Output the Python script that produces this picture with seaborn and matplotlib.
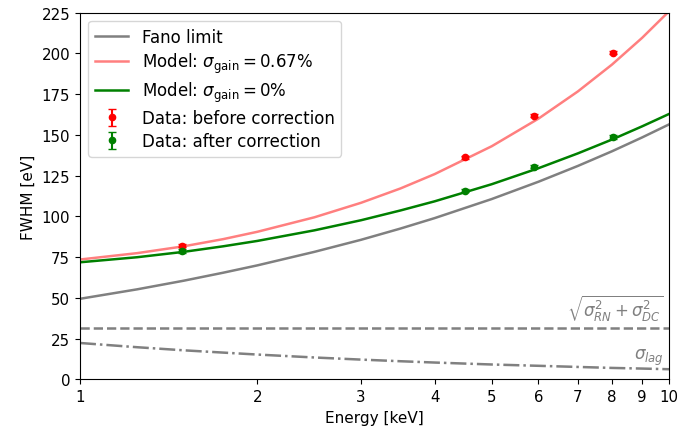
import numpy as np
import pandas as pd
import matplotlib
matplotlib.use("Agg")
import matplotlib.pyplot as plt
import seaborn as sns
from matplotlib.ticker import FixedLocator, NullLocator, FixedFormatter

# ---- data ----
energy_grid = [1, 1.25, 1.5, 1.75, 2, 2.5, 3, 3.5, 4, 5, 6, 7, 8, 9, 10]
fano_limit = [49.5, 55.3, 60.6, 65.5, 70.0, 78.3, 85.7, 92.6, 99.0, 110.7, 121.3, 131.0, 140.0, 148.5, 156.5]
model_gain = [73.6, 77.5, 81.7, 86.1, 90.6, 99.5, 108.4, 117.2, 126.0, 143.1, 160.0, 176.7, 193.2, 209.6, 225.9]
model_nogain = [71.9, 75.0, 78.3, 81.7, 85.0, 91.5, 97.7, 103.7, 109.3, 119.8, 129.6, 138.7, 147.2, 155.3, 162.9]
sigma_lag = [22.4, 19.8, 17.9, 16.5, 15.3, 13.5, 12.2, 11.2, 10.4, 9.2, 8.4, 7.7, 7.1, 6.7, 6.3]
rn_dc_level = [31.8, 31.8]
rn_dc_energy = [1, 10]

data_energy = [1.49, 4.51, 5.90, 8.04]
data_before = [82.1, 136.3, 161.8, 200.5]
data_before_err = [1.0, 1.0, 1.0, 1.0]
data_after = [78.8, 115.8, 130.5, 148.8]
data_after_err = [1.0, 1.0, 1.0, 1.0]

xtick_vals = [1, 2, 3, 4, 5, 6, 7, 8, 9, 10]
xtick_labels = ["1", "2", "3", "4", "5", "6", "7", "8", "9", "10"]
ytick_vals = [0, 25, 50, 75, 100, 125, 150, 175, 200, 225]

plt.rcParams["font.size"] = 11
plt.rcParams["xtick.labelsize"] = 10.8
plt.rcParams["ytick.labelsize"] = 10.8
plt.rcParams["font.family"] = ["DejaVu Sans"]

fig, ax = plt.subplots(figsize=(6.8, 4.35), dpi=100)
fig.subplots_adjust(left=0.1176, right=0.984, top=0.9685, bottom=0.1253)

curves = pd.DataFrame({"E": energy_grid, "fano": fano_limit, "gain": model_gain,
                       "nogain": model_nogain, "lag": sigma_lag})

sns.lineplot(data=curves, x="E", y="fano", ax=ax, color="gray", lw=1.8,
             label="Fano limit", sort=False, estimator=None)
sns.lineplot(data=curves, x="E", y="gain", ax=ax, color="red", alpha=0.5, lw=1.8,
             label=r"Model: $\sigma_{\rm gain} = 0.67\%$", sort=False, estimator=None)
sns.lineplot(data=curves, x="E", y="nogain", ax=ax, color="green", lw=1.8,
             label=r"Model: $\sigma_{\rm gain} = 0\%$", sort=False, estimator=None)
sns.lineplot(x=rn_dc_energy, y=rn_dc_level, ax=ax, color="gray", lw=1.8,
             linestyle="--", sort=False, estimator=None)
sns.lineplot(data=curves, x="E", y="lag", ax=ax, color="gray", lw=1.8,
             linestyle="-.", sort=False, estimator=None)

ax.errorbar(data_energy, data_before, yerr=data_before_err, fmt="o", color="red",
            ms=4.5, capsize=3, label="Data: before correction")
ax.errorbar(data_energy, data_after, yerr=data_after_err, fmt="o", color="green",
            ms=4.5, capsize=3, label="Data: after correction")

ax.set_xscale("log")
ax.set_xlim(1, 10)
ax.set_ylim(0, 225)
ax.xaxis.set_major_locator(FixedLocator(xtick_vals))
ax.xaxis.set_major_formatter(FixedFormatter(xtick_labels))
ax.xaxis.set_minor_locator(NullLocator())
ax.set_yticks(ytick_vals)

ax.set_xlabel("Energy [keV]")
ax.set_ylabel("FWHM [eV]")

ax.text(9.8, 34.5, r"$\sqrt{\sigma_{RN}^2 + \sigma_{DC}^2}$", color="gray",
        ha="right", va="bottom", fontsize=12)
ax.text(9.8, 7.5, r"$\sigma_{lag}$", color="gray", ha="right", va="bottom", fontsize=12)

handles, labels = ax.get_legend_handles_labels()
ax.legend(handles, labels, loc="upper left", fontsize=12, labelspacing=0.3)

fig.savefig("out.png", dpi=100)
